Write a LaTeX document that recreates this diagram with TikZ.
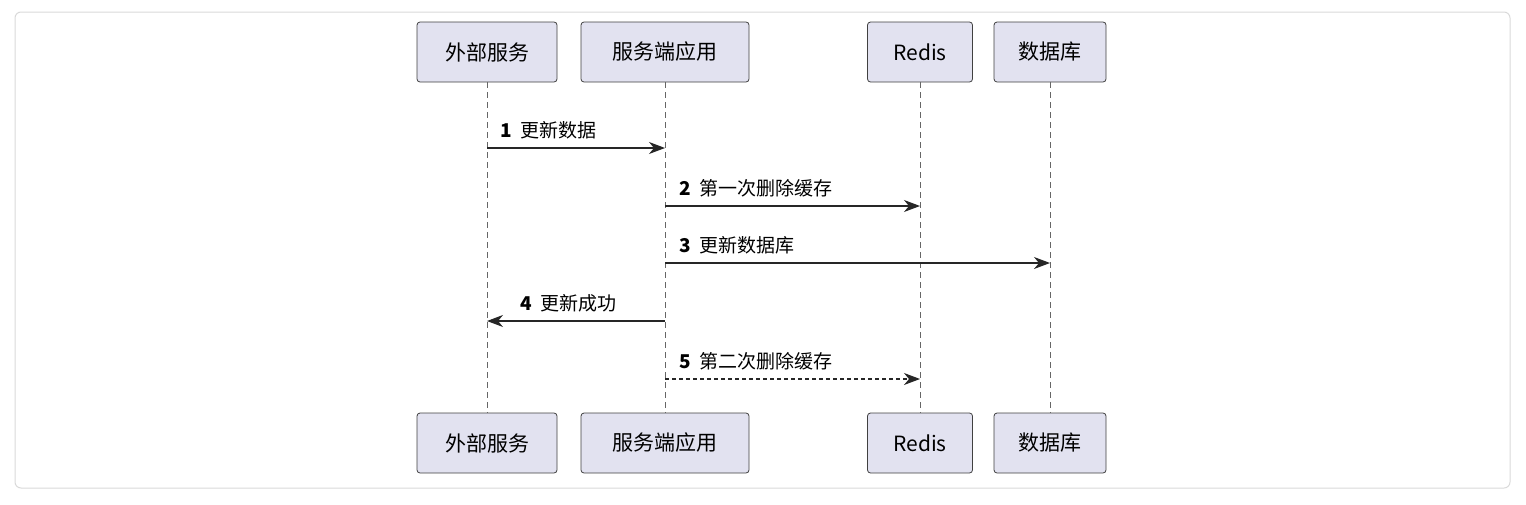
\documentclass[tikz,border=0pt]{standalone}
\usepackage{fontspec}
\setmainfont{Noto Sans CJK SC}
\usetikzlibrary{arrows.meta}
\begin{document}
\begin{tikzpicture}[x=1pt,y=-1pt,
 part/.style={draw=black!75,fill=boxfill,rounded corners=3pt,line width=0.8pt,minimum height=60pt,inner xsep=0pt,font=\fontsize{21}{24}\selectfont,anchor=center},
 life/.style={draw=black!60,dashed,dash pattern=on 6pt off 4pt,line width=0.8pt},
 msg/.style={draw=black!85,line width=1.1pt,-{Stealth[length=16pt,width=12pt,inset=5pt]}},
 lbl/.style={font=\fontsize{19}{22}\selectfont,anchor=south west,inner sep=0pt}]
\definecolor{boxfill}{HTML}{E2E2F0}
\useasboundingbox (0,0) rectangle (1526,504);
\draw[draw=black!15,line width=1pt,rounded corners=6pt] (15,12) rectangle (1510,488);
\foreach \n/\t/\x/\w in {a/外部服务/487/140,b/服务端应用/665/168,c/Redis/920/105,d/数据库/1050/112}{
 \node[part,minimum width=\w pt] (\n1) at (\x,52) {\t};
 \node[part,minimum width=\w pt] (\n2) at (\x,443) {\t};
 \draw[life] (\n1.south) -- (\n2.north);
}
\coordinate (a3) at (487,148); \coordinate (b3) at (665,148);
\coordinate (b4) at (665,206); \coordinate (c4) at (920,206);
\coordinate (b5) at (665,263); \coordinate (d5) at (1050,263);
\coordinate (b6) at (665,321); \coordinate (a6) at (487,321);
\coordinate (b7) at (665,379); \coordinate (c7) at (920,379);
\draw[msg] (a3) -- (b3);
\node[lbl] at (500,139) {\textbf{1}\ \ 更新数据};
\draw[msg] (b4) -- (c4);
\node[lbl] at (679,197) {\textbf{2}\ \ 第一次删除缓存};
\draw[msg] (b5) -- (d5);
\node[lbl] at (679,254) {\textbf{3}\ \ 更新数据库};
\draw[msg] (b6) -- (a6);
\node[lbl] at (520,312) {\textbf{4}\ \ 更新成功};
\draw[msg,dash pattern=on 4pt off 3pt] (b7) -- (c7);
\node[lbl] at (679,370) {\textbf{5}\ \ 第二次删除缓存};
\end{tikzpicture}
\end{document}
